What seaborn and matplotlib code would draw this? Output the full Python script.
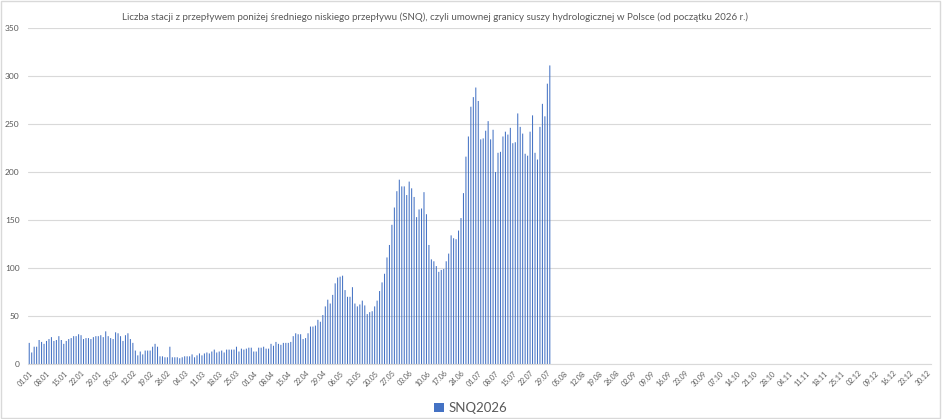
import matplotlib
matplotlib.use("Agg")
import matplotlib.pyplot as plt
import seaborn as sns
import pandas as pd
import numpy as np
from matplotlib.patches import Rectangle

# Daily number of stations below SNQ, from 01.01 onwards
snq2026 = [
    22, 12, 18, 18, 25, 23, 21, 24, 26, 28,
    24, 25, 29, 25, 21, 24, 26, 27, 29, 29,
    31, 30, 26, 27, 27, 26, 28, 29, 29, 30,
    28, 34, 29, 27, 26, 33, 32, 29, 24, 30,
    32, 26, 22, 14, 9, 13, 10, 14, 14, 14,
    18, 21, 18, 8, 8, 7, 7, 18, 7, 7,
    7, 6, 7, 8, 8, 8, 10, 7, 9, 11,
    9, 11, 12, 11, 13, 15, 12, 13, 14, 12,
    15, 15, 15, 15, 18, 13, 16, 15, 16, 17,
    17, 13, 13, 17, 17, 18, 16, 16, 21, 19,
    23, 21, 20, 22, 22, 22, 23, 29, 32, 31,
    31, 26, 27, 32, 39, 39, 40, 46,
    44, 51, 60, 67, 63, 72, 84, 90, 91, 92,
    77, 70, 70, 80, 63, 60, 62, 66, 61, 52,
    54, 55, 60, 66, 76, 85, 94, 111, 124, 145,
    163, 180, 192, 185, 185, 176, 190, 183, 174, 153,
    161, 162, 179, 156, 124, 109, 107, 102, 96, 98,
    99, 107, 115, 134, 131, 130, 139, 152, 178, 216,
    237, 268, 278, 288, 274, 234, 235, 243, 253, 234,
    244, 200, 220, 221, 237, 242, 239, 246, 230, 231,
    261, 247, 240, 219, 217, 242, 259, 220, 213, 247,
    271, 258, 292, 311,
]

# Category axis: every day of the (leap-year) calendar, labelled dd.mm
day_labels = list(pd.date_range("2024-01-01", "2024-12-31", freq="D").strftime("%d.%m"))
series_name = "SNQ2026"
title_text = ("Liczba stacji z przepływem poniżej średniego niskiego przepływu (SNQ), "
              "czyli umownej granicy suszy hydrologicznej w Polsce (od początku 2026 r.)")
y_ticks = [0, 50, 100, 150, 200, 250, 300, 350]

df = pd.DataFrame({"dzien": day_labels[:len(snq2026)], "wartosc": snq2026})

sns.set_theme(style="white")
plt.rcParams["font.family"] = ["Lato", "DejaVu Sans"]

grey = "#595959"
grid = "#D9D9D9"
blue = "#4472C4"

fig = plt.figure(figsize=(9.42, 4.19), dpi=100)
ax = fig.add_axes([28 / 942, 1 - 364 / 419, (931 - 28) / 942, (364 - 28) / 419])

sns.barplot(data=df, x="dzien", y="wartosc", order=day_labels, color=blue,
            width=0.42, saturation=1, ax=ax, label=series_name)
for p in ax.patches:
    p.set_snap(False)
    p.set_linewidth(0)
    p.set_edgecolor("none")
    p.set_antialiased(True)

ax.set_xlim(-0.5, len(day_labels) - 0.5)
ax.set_ylim(0, 350)
ax.set_yticks(y_ticks)
ax.set_yticklabels([str(v) for v in y_ticks], fontsize=6, color=grey)
tick_pos = list(range(0, len(day_labels), 7))
ax.set_xticks(tick_pos)
ax.set_xticklabels([day_labels[i] for i in tick_pos], rotation=45, ha="right",
                   rotation_mode="anchor", fontsize=5, color=grey)
ax.tick_params(axis="both", length=0, pad=4)
ax.tick_params(axis="y", pad=6)
ax.set_xlabel("")
ax.set_ylabel("")
ax.yaxis.grid(True, color=grid, linewidth=0.8)
ax.set_axisbelow(True)
for s in ["top", "right", "left"]:
    ax.spines[s].set_visible(False)
ax.spines["bottom"].set_color(grid)
ax.spines["bottom"].set_linewidth(0.8)
if ax.get_legend() is not None:
    ax.get_legend().remove()

fig.text(122 / 942, 1 - 17 / 419, title_text, ha="left", va="center",
         fontsize=7, color=grey)

handle = Rectangle((0, 0), 1, 1, facecolor=blue, edgecolor="none")
fig.legend([handle], [series_name], loc="center", bbox_to_anchor=(0.5, 1 - 408 / 419),
           frameon=False, fontsize=9.5, handlelength=0.7, handleheight=0.7,
           handletextpad=0.4, labelcolor=grey)

fig.patches.append(Rectangle((0.001, 0.002), 0.997, 0.995, transform=fig.transFigure,
                             fill=False, edgecolor=grid, linewidth=1))

fig.savefig("out.png", dpi=100)
